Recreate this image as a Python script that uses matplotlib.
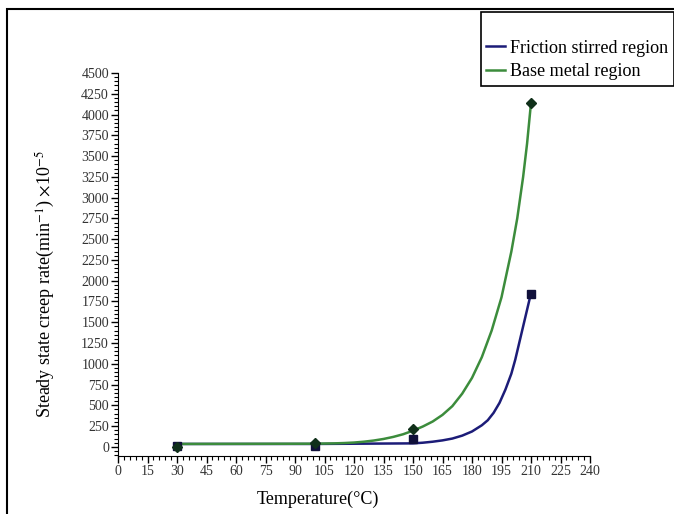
import numpy as np
import matplotlib
matplotlib.use('Agg')
import matplotlib.pyplot as plt
from matplotlib.ticker import MultipleLocator
from matplotlib.patches import Rectangle

plt.rcParams['font.family'] = ['Liberation Serif', 'DejaVu Serif']
plt.rcParams['mathtext.fontset'] = 'stix'

# measured points (temperature in C, creep rate x1e-5 per min)
temp_pts = [30, 100, 150, 210]
fsr_pts = [15, 8, 90, 1845]       # friction stirred region (squares)
bm_pts = [2, 45, 215, 4140]       # base metal region (diamonds)

# fitted curves
fsr_curve_t = [30, 100, 150, 155, 160, 165, 170, 175, 180, 185, 188, 191, 194, 197,
               200, 202, 204, 206, 208, 210]
fsr_curve_v = [35, 35, 42, 50, 62, 78, 100, 135, 185, 260, 320, 410, 530, 690,
               880, 1050, 1250, 1450, 1650, 1850]
bm_curve_t = [30, 100, 110, 115, 120, 125, 130, 135, 140, 145, 150, 155, 160, 165,
              170, 175, 180, 185, 190, 195, 200, 203, 206, 208, 210]
bm_curve_v = [35, 38, 42, 46, 52, 62, 76, 95, 120, 152, 195, 245, 305, 385,
              490, 640, 830, 1080, 1400, 1800, 2350, 2750, 3250, 3650, 4140]

blue = '#1c1c78'
green = '#3c8c3c'

fig = plt.figure(figsize=(6.74, 5.14), dpi=100)
ax = fig.add_axes([118/674, 1-456/514, 472/674, 383/514])

ax.plot(fsr_curve_t, fsr_curve_v, color=blue, lw=1.8, label='Friction stirred region')
ax.plot(bm_curve_t, bm_curve_v, color=green, lw=1.8, label='Base metal region')
ax.plot(temp_pts, fsr_pts, 's', color='#10103a', ms=6, ls='none')
ax.plot(temp_pts, bm_pts, 'D', color='#10301a', ms=5, ls='none')

ax.set_xlim(0, 240)
ax.set_ylim(-110, 4500)
ax.set_xticks(np.arange(0, 241, 15))
ax.set_yticks(np.arange(0, 4501, 250))
ax.xaxis.set_minor_locator(MultipleLocator(3))
ax.yaxis.set_minor_locator(MultipleLocator(50))
ax.tick_params(which='major', direction='out', length=5, width=1, labelsize=10,
               labelcolor='#333333', pad=1.5)
ax.tick_params(which='minor', direction='out', length=3, width=0.8)
ax.spines['top'].set_visible(False)
ax.spines['right'].set_visible(False)
ax.spines['left'].set_bounds(-110, 4500)

ax.set_xlabel('Temperature(°C)', fontsize=13)
ax.xaxis.set_label_coords(0.424, -0.09)
ax.set_ylabel(r'Steady state creep rate(min$^{-1}$) $\times$10$^{-5}$', fontsize=13)
ax.yaxis.set_label_coords(-0.13, 0.45)

leg = fig.legend(loc='upper left', bbox_to_anchor=(481/674, 1-12/514), title=' ',
                 fontsize=13.1, title_fontsize=12, handlelength=1.0, handletextpad=0.3,
                 borderaxespad=0, fancybox=False, edgecolor='black', framealpha=1,
                 labelspacing=0.35, borderpad=0.3)
leg.get_frame().set_linewidth(1.2)

# outer border of the picture
fig.patches.append(Rectangle((7/674, -0.1), 1.2, 1-9/514+0.1, transform=fig.transFigure,
                             fill=False, edgecolor='black', lw=1.5))

fig.savefig('out.png', dpi=100)
